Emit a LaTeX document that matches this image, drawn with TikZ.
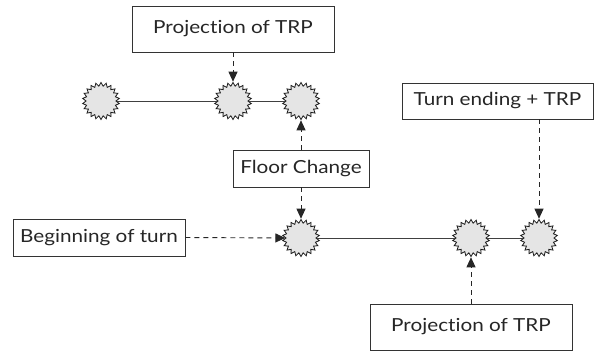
\documentclass[tikz,border=0pt]{standalone}
\usepackage{fontspec}
\setmainfont[FakeStretch=1.15,Ligatures={CommonOff}]{Lato}
\usetikzlibrary{shapes.symbols,arrows.meta}
\begin{document}
\begin{tikzpicture}[x=1pt,y=-1pt,
  burst/.style={starburst,starburst points=22,starburst point height=3.5pt,random starburst=0,
    draw=black!90,line width=0.8pt,fill=black!10,minimum width=37pt,minimum height=37pt,inner sep=0pt},
  label box/.style={draw=black!80,line width=0.8pt,rectangle,inner sep=0pt,font=\fontsize{18}{21}\selectfont,text=black!85},
  link/.style={draw=black!75,line width=1pt},
  pointer/.style={draw=black!85,line width=0.9pt,dash pattern=on 5pt off 4pt,-{Triangle[length=10pt,width=9pt]}}]
\useasboundingbox (0,0) rectangle (599,351);
% stars
\node[burst] (s1) at (101,101) {};
\node[burst] (s2) at (233,101) {};
\node[burst] (s3) at (301,101) {};
\node[burst] (s4) at (301,238) {};
\node[burst] (s5) at (471,238) {};
\node[burst] (s6) at (539,238) {};
% boxes
\node[label box,minimum width=202pt,minimum height=46pt] (ptop) at (233,29) {Projection of TRP};
\node[label box,minimum width=136pt,minimum height=37pt] (floor) at (301,168.5) {Floor Change};
\node[label box,minimum width=172pt,minimum height=37pt] (begin) at (99,237.5) {Beginning of turn};
\node[label box,minimum width=191pt,minimum height=36pt] (tend) at (497.5,101) {Turn ending + TRP};
\node[label box,minimum width=202pt,minimum height=46pt] (pbot) at (471,327) {Projection of TRP};
% solid links
\draw[link] (s1) -- (s2);
\draw[link] (s2) -- (s3);
\draw[link] (s4) -- (s5);
\draw[link] (s5) -- (s6);
% dashed pointers
\draw[pointer] (ptop.south -| s2) -- (s2.north);
\draw[pointer] (floor.north -| s3) -- (s3.south);
\draw[pointer] (floor.south -| s4) -- (s4.north);
\draw[pointer] (begin.east) -- (s4.west);
\draw[pointer] (tend.south -| s6) -- (s6.north);
\draw[pointer] (pbot.north -| s5) -- (s5.south);
\end{tikzpicture}
\end{document}
